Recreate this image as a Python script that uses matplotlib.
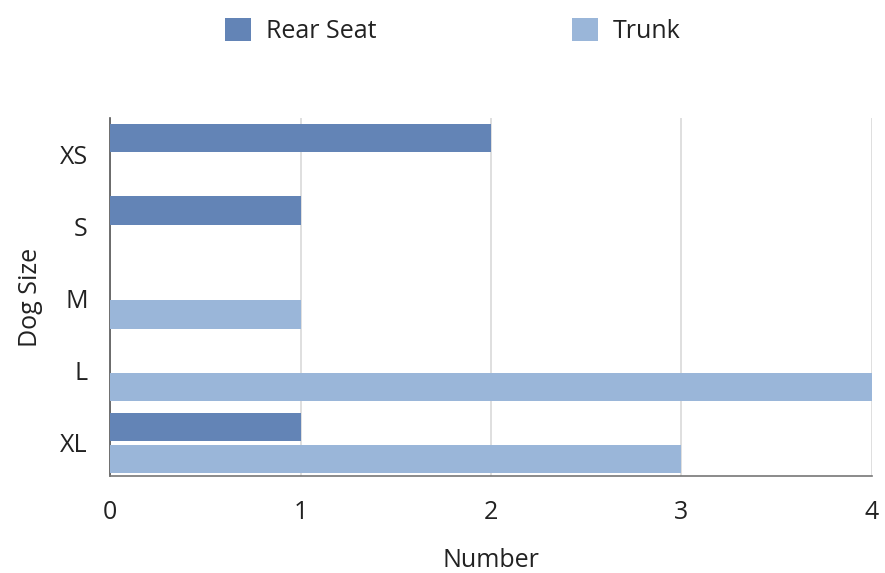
import matplotlib.pyplot as plt
import numpy as np

# Daten
sizes = ["XS", "S", "M", "L", "XL"]
rear_seat = [2, 1, 0, 0, 1]
trunk = [0, 0, 1, 4, 3]

plt.rcParams["font.family"] = ["Open Sans", "DejaVu Sans"]

fig = plt.figure(figsize=(8.85, 5.73), dpi=100)
ax = fig.add_axes([0.1243, 0.169, 0.861, 0.625])

y = np.arange(len(sizes))
h = 0.39
ax.barh(y - 0.22, rear_seat, height=h, color="#6384b6", label="Rear Seat", zorder=3)
ax.barh(y + 0.22, trunk, height=h, color="#9ab6d9", label="Trunk", zorder=3)

ax.set_yticks(y)
ax.set_yticklabels(sizes, fontsize=18, color="#222222")
ax.set_ylim(4.46, -0.5)
ax.set_xlim(0, 4)
ax.set_xticks([0, 1, 2, 3, 4])
ax.tick_params(axis="x", labelsize=18, colors="#222222", length=0, pad=17)
ax.tick_params(axis="y", length=0, pad=16)

ax.grid(axis="x", color="#d9d9d9", linewidth=1.2, zorder=0)
for s in ["top", "right"]:
    ax.spines[s].set_visible(False)
ax.spines["left"].set_color("#555555")
ax.spines["bottom"].set_color("#777777")
ax.spines["left"].set_linewidth(1.2)
ax.spines["bottom"].set_linewidth(1.2)

ax.set_xlabel("Number", fontsize=18, color="#222222", labelpad=17)
ax.set_ylabel("Dog Size", fontsize=18, color="#222222", labelpad=12)

fig.legend(loc="upper center", bbox_to_anchor=(0.512, 1.008), ncol=2, frameon=False,
           fontsize=18, handlelength=1.05, handleheight=1.05, columnspacing=7.8,
           handletextpad=0.6, labelcolor="#222222")

fig.savefig("out.png", dpi=100)
